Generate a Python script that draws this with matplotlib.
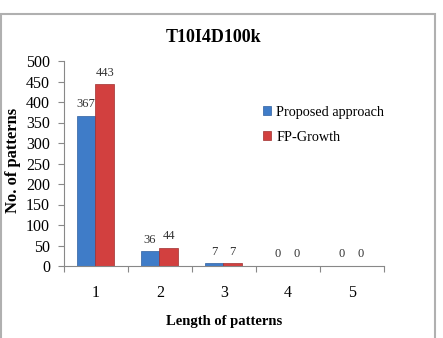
import matplotlib.pyplot as plt
from matplotlib.patches import Rectangle
import numpy as np

plt.rcParams['font.family'] = ['Liberation Serif', 'DejaVu Serif']

lengths = ['1', '2', '3', '4', '5']
proposed = [367, 36, 7, 0, 0]
fpgrowth = [443, 44, 7, 0, 0]
series_names = ['Proposed approach', 'FP-Growth']

blue = '#3f7cc8'
red = '#d2403f'

fig = plt.figure(figsize=(4.43, 3.38), dpi=100)
fig.patches.append(Rectangle((0.5/443, -0.1), 434.5/443, 1.1 - 14/338,
                             transform=fig.transFigure, fill=False,
                             edgecolor='#b0b0b0', lw=1.5))

ax = fig.add_axes([64/443, 1 - 266/338, 320/443, 205/338])
x = np.arange(len(lengths))
w = 0.29
b1 = ax.bar(x - w/2 - 0.01, proposed, w, color=blue, edgecolor='#2f5f9f', lw=0.5,
            label=series_names[0])
b2 = ax.bar(x + w/2 - 0.01, fpgrowth, w, color=red, edgecolor='#9f2f2f', lw=0.5,
            label=series_names[1])

for bars, vals in ((b1, proposed), (b2, fpgrowth)):
    for r, v in zip(bars, vals):
        ax.annotate(str(v), (r.get_x() + r.get_width()/2, v),
                    xytext=(0, 4), textcoords='offset points',
                    ha='center', va='bottom', fontsize=9, color='#333333')

ax.set_xlim(-0.5, 4.5)
ax.set_ylim(0, 500)
ax.set_yticks(range(0, 501, 50))
ax.set_xticks(np.arange(-0.5, 5, 1))
ax.set_xticklabels([])
ax.set_xticks(x, minor=True)
ax.set_xticklabels(lengths, minor=True)
ax.tick_params(axis='x', which='minor', length=0, pad=14, labelsize=11.5)
ax.tick_params(axis='x', which='major', length=4, color='#888888')
ax.tick_params(axis='y', length=4, color='#888888', pad=6, labelsize=11.5)
for s in ('top', 'right'):
    ax.spines[s].set_visible(False)
for s in ('left', 'bottom'):
    ax.spines[s].set_color('#888888')

fig.text(213/443, 1 - 37/338, 'T10I4D100k', ha='center', va='center',
         fontsize=13, fontweight='bold')
fig.text(224/443, 1 - 322/338, 'Length of patterns', ha='center', va='center',
         fontsize=10.5, fontweight='bold')
fig.text(13/443, 1 - 160/338, 'No. of patterns', ha='center', va='center',
         rotation=90, fontsize=12, fontweight='bold')

fig.legend(loc='upper left', bbox_to_anchor=(257/443, 1 - 100/338),
           frameon=False, fontsize=10.3, handlelength=0.6, handleheight=0.6,
           handletextpad=0.35, labelspacing=0.85, borderaxespad=0)

fig.savefig('out.png', dpi=100)
